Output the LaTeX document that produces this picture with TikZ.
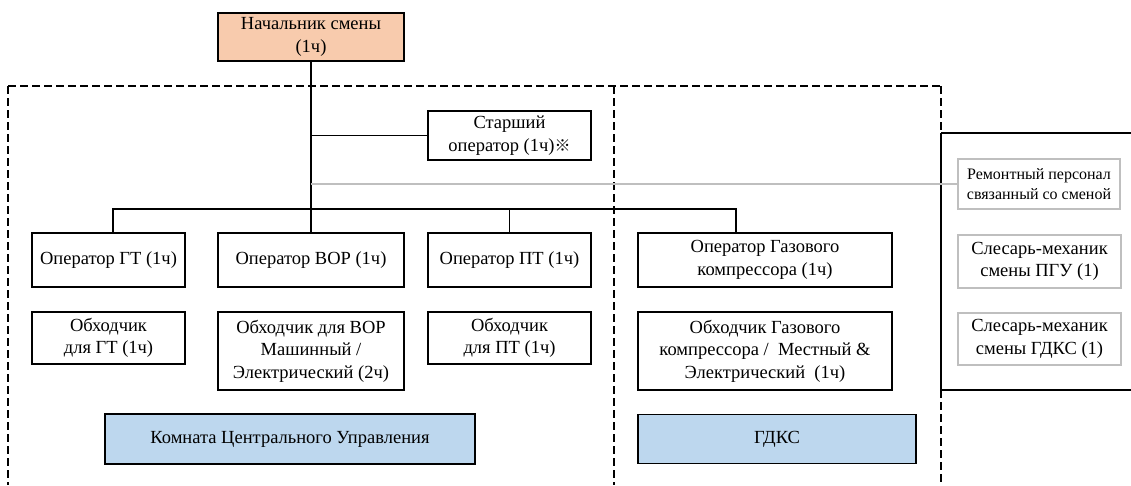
\documentclass[tikz,border=0pt]{standalone}
\usepackage{fontspec}
\setmainfont{Liberation Serif}
\newfontfamily\cjk{Noto Sans CJK JP}
\definecolor{peach}{HTML}{F8CBAD}
\definecolor{paleblue}{HTML}{BDD7EE}
\definecolor{lightgrey}{HTML}{BFBFBF}
\begin{document}
\begin{tikzpicture}[x=1pt,y=-1pt,
  box/.style={draw=black,line width=1.8pt,inner sep=0pt,align=center,
    font=\fontsize{18.5}{22.5}\selectfont},
  greybox/.style={draw=lightgrey,line width=1.6pt,inner sep=0pt,align=center,
    font=\fontsize{18.5}{22.5}\selectfont},
  link/.style={line width=1.5pt,draw=black},
  frame/.style={line width=2pt,dash pattern=on 8pt off 4pt},
  thinframe/.style={line width=1.2pt,dash pattern=on 8pt off 4pt}]
\useasboundingbox (0,0) rectangle (1131,485);

% headcount boxes
\node[box,fill=peach,minimum width=186pt,minimum height=48pt] (boss) at (311,37)
  {Начальник смены\\(1ч)};
\node[box,minimum width=163pt,minimum height=49pt] (senior) at (509.5,135.5)
  {Старший\\оператор (1ч){\cjk\fontsize{16}{20}\selectfont ※}};

\node[box,minimum width=153pt,minimum height=54pt] (opGT) at (108.5,260) {Оператор ГТ (1ч)};
\node[box,minimum width=186pt,minimum height=54pt] (opVOR) at (311,260) {Оператор ВОР (1ч)};
\node[box,minimum width=163pt,minimum height=54pt] (opPT) at (509.5,260) {Оператор ПТ (1ч)};
\node[box,minimum width=254pt,minimum height=54pt] (opGas) at (765,260)
  {Оператор Газового\\компрессора (1ч)};

\node[box,minimum width=153pt,minimum height=52pt] (obGT) at (108.5,338) {Обходчик\\для ГТ (1ч)};
\node[box,minimum width=186pt,minimum height=78pt] (obVOR) at (311,351)
  {Обходчик для ВОР\\Машинный /\\Электрический (2ч)};
\node[box,minimum width=163pt,minimum height=52pt] (obPT) at (509.5,338) {Обходчик\\для ПТ (1ч)};
\node[box,minimum width=254pt,minimum height=78pt] (obGas) at (765,351)
  {Обходчик Газового\\компрессора /\ \ Местный \&\\Электрический\ \ (1ч)};

\node[box,fill=paleblue,minimum width=370pt,minimum height=50pt] (kcu) at (290,439)
  {Комната Центрального Управления};
\node[box,fill=paleblue,minimum width=278pt,minimum height=49pt] (gdks) at (777,439) {ГДКС};

% maintenance staff on the right
\node[greybox,minimum width=162pt,minimum height=50pt,
  font=\fontsize{16}{20}\selectfont] (rem) at (1039,184)
  {Ремонтный персонал\\связанный со сменой};
\node[greybox,minimum width=163pt,minimum height=53pt] (slPGU) at (1039.5,261.5)
  {Слесарь-механик\\смены ПГУ (1)};
\node[greybox,minimum width=163pt,minimum height=52pt] (slGDKS) at (1039.5,339)
  {Слесарь-механик\\смены ГДКС (1)};

% area frames
\draw[frame] (8,86) -- (941,86);
\draw[thinframe] (8,86) -- (8,485);
\draw[frame] (614,86) -- (614,485);
\draw[frame] (941,86) -- (941,133);
\draw[frame] (941,390) -- (941,485);
\draw[line width=2pt] (1131,133) -- (941,133);
\draw[line width=1.2pt] (941,133) -- (941,390);
\draw[line width=1.6pt] (941,390) -- (1131,390);

% reporting lines
\coordinate (dGT) at (113,209);
\coordinate (dGas) at (736,209);
\draw[link] (boss.south) -- (opVOR.north);
\draw[link] (boss.south |- senior.west) -- (senior.west);
\draw[line width=1.8pt,draw=lightgrey] (boss.south |- rem.west) -- (rem.west);
\draw[link] (dGT |- opGT.north) -- (dGT) -- (dGas) -- (dGas |- opGas.north);
\draw[link] (opPT.north |- dGT) -- (opPT.north);
\end{tikzpicture}
\end{document}
